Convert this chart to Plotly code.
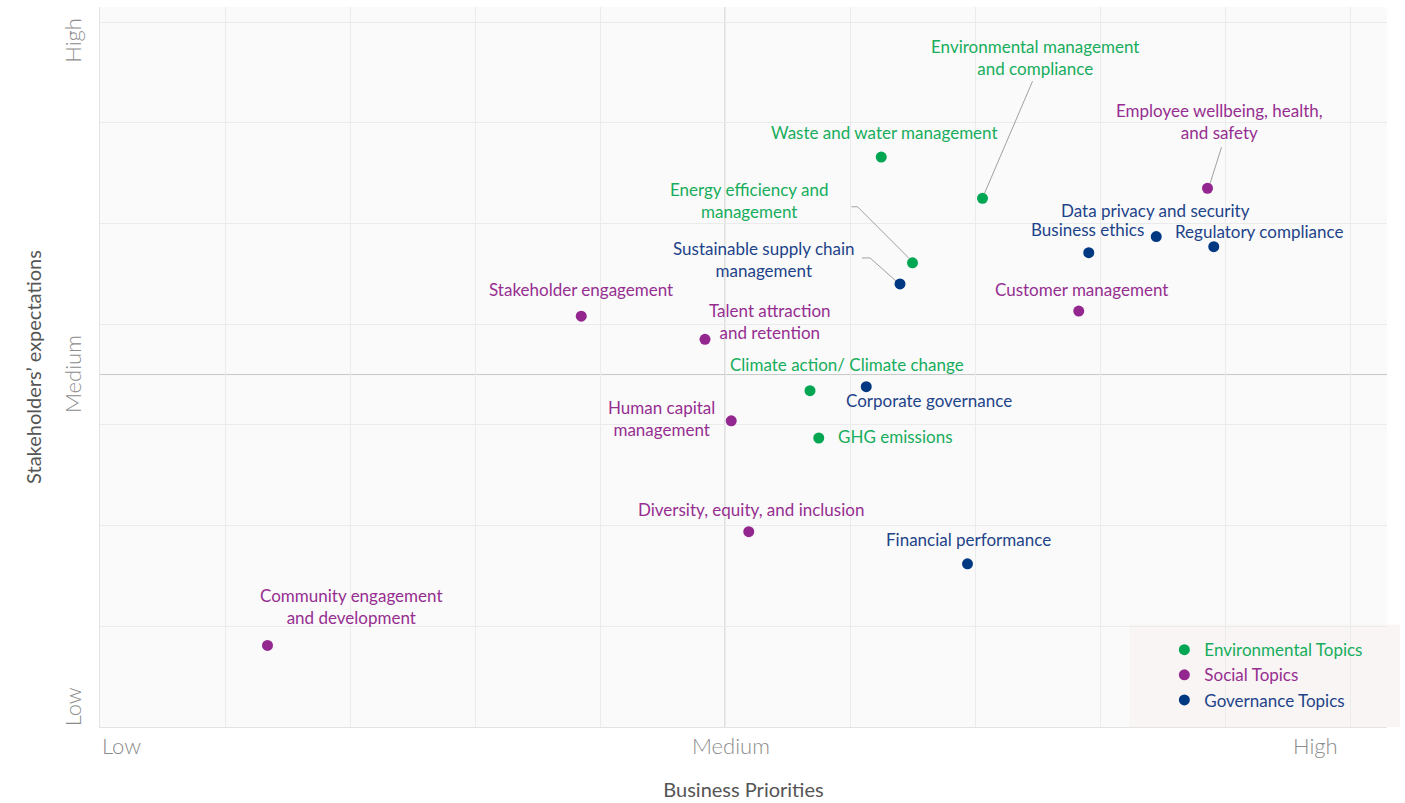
import plotly.graph_objects as go

# ---- data -------------------------------------------------------------
env_topics = ["Waste and water management", "Environmental management<br>and compliance",
              "Energy efficiency and<br>management", "Climate action/ Climate change",
              "GHG emissions"]
env_x = [6.25, 7.06, 6.50, 5.68, 5.75]
env_y = [5.66, 5.25, 4.61, 3.34, 2.87]

soc_topics = ["Employee wellbeing, health,<br>and safety", "Customer management",
              "Stakeholder engagement", "Talent attraction<br>and retention",
              "Human capital<br>management", "Diversity, equity, and inclusion",
              "Community engagement<br>and development"]
soc_x = [8.86, 7.83, 3.85, 4.84, 5.05, 5.19, 1.34]
soc_y = [5.35, 4.13, 4.08, 3.85, 3.04, 1.94, 0.81]

gov_topics = ["Data privacy and security", "Regulatory compliance", "Business ethics",
              "Sustainable supply chain<br>management", "Corporate governance",
              "Financial performance"]
gov_x = [8.45, 8.91, 7.91, 6.40, 6.13, 6.94]
gov_y = [4.87, 4.77, 4.71, 4.40, 3.38, 1.62]

level_labels = ["Low", "Medium", "High"]

# ---- styling ----------------------------------------------------------
FONT = "Lato, 'Source Sans Pro', sans-serif"
GREEN, PURPLE, NAVY = "#00a651", "#93278f", "#003882"
TXT_GREEN, TXT_PURPLE, TXT_NAVY = "#16ad5c", "#962e91", "#1d4389"
LABEL_SIZE = 17

X_RANGE = [0, 10.296]
Y_RANGE = [0, 7.15]
PLOT_L, PLOT_R, PLOT_T, PLOT_B = 100, 18, 7, 76
W, H = 1405, 803
PX_X = (W - PLOT_L - PLOT_R) / (X_RANGE[1] - X_RANGE[0])   # pixels per x unit
PX_Y = (H - PLOT_T - PLOT_B) / (Y_RANGE[1] - Y_RANGE[0])   # pixels per y unit

# label offsets from each point, in pixels (dx right, dy up)
label_offsets = {
    "Waste and water management": (3, 25),
    "Environmental management<br>and compliance": (52, 141),
    "Energy efficiency and<br>management": (-164, 62),
    "Climate action/ Climate change": (37, 26),
    "GHG emissions": (77, 1),
    "Employee wellbeing, health,<br>and safety": (12, 67),
    "Customer management": (3, 22),
    "Stakeholder engagement": (0, 27),
    "Talent attraction<br>and retention": (65, 18),
    "Human capital<br>management": (-70, 2),
    "Diversity, equity, and inclusion": (2, 22),
    "Community engagement<br>and development": (83, 39),
    "Data privacy and security": (-1, 26),
    "Regulatory compliance": (45, 15),
    "Business ethics": (-1, 23),
    "Sustainable supply chain<br>management": (-136, 24),
    "Corporate governance": (63, -14),
    "Financial performance": (1, 24),
}

# leader lines: pixel offsets (dx, dy up) of the vertices, starting near the point
leaders = {
    "Environmental management<br>and compliance": [(2, 5), (50, 117)],
    "Employee wellbeing, health,<br>and safety": [(2, 3), (14, 41)],
    "Energy efficiency and<br>management": [(-3, 4), (-55, 56), (-61, 56)],
    "Sustainable supply chain<br>management": [(-3, 2), (-30, 26), (-38, 26)],
}

fig = go.Figure()

groups = [
    ("Environmental Topics", env_topics, env_x, env_y, GREEN, TXT_GREEN),
    ("Social Topics", soc_topics, soc_x, soc_y, PURPLE, TXT_PURPLE),
    ("Governance Topics", gov_topics, gov_x, gov_y, NAVY, TXT_NAVY),
]

# leader lines first so the dots sit on top
for name, topics, xs, ys, col, tcol in groups:
    for t, x, y in zip(topics, xs, ys):
        if t in leaders:
            lx = [x + dx / PX_X for dx, dy in leaders[t]]
            ly = [y + dy / PX_Y for dx, dy in leaders[t]]
            fig.add_trace(go.Scatter(x=lx, y=ly, mode="lines",
                                     line=dict(color="#a0a0a0", width=1),
                                     showlegend=False, hoverinfo="skip"))

for name, topics, xs, ys, col, tcol in groups:
    fig.add_trace(go.Scatter(
        x=xs, y=ys, mode="markers",
        name=f"<span style='color:{tcol}'>{name}</span>",
        marker=dict(size=11, color=col),
        text=[t.replace("<br>", " ") for t in topics],
        hovertemplate="%{text}<extra></extra>",
    ))
    for t, x, y in zip(topics, xs, ys):
        dx, dy = label_offsets[t]
        fig.add_annotation(x=x, y=y, text=t, showarrow=False,
                           xshift=dx, yshift=dy, xanchor="center", yanchor="middle",
                           font=dict(family=FONT, size=LABEL_SIZE, color=tcol))

# quadrant dividers at the medium level
fig.add_shape(type="line", x0=5, x1=5, y0=Y_RANGE[0], y1=Y_RANGE[1],
              line=dict(color="#c8c8c8", width=1), layer="below")
fig.add_shape(type="line", x0=X_RANGE[0], x1=X_RANGE[1], y0=3.5, y1=3.5,
              line=dict(color="#c8c8c8", width=1), layer="below")

# legend backdrop
fig.add_shape(type="rect", xref="paper", yref="paper",
              x0=0.80, x1=1.01, y0=0, y1=0.142,
              fillcolor="rgba(248,244,243,0.9)", line=dict(width=0), layer="below")

# level labels along both axes
tick_font = dict(family=FONT, size=22, color="#8c8c8c", weight=300)
x_pos = [(0, "left"), (5.05, "center"), (9.92, "right")]
for lab, (xv, anc) in zip(level_labels, x_pos):
    fig.add_annotation(x=xv, y=0, xref="x", yref="y", text=lab, showarrow=False,
                       xanchor=anc, yanchor="top", yshift=-3, font=tick_font)
y_pos = [0.2, 3.5, 6.82]
for lab, yv in zip(level_labels, y_pos):
    fig.add_annotation(x=0, y=yv, xref="x", yref="y", text=lab, showarrow=False,
                       textangle=-90, xanchor="right", yanchor="middle", xshift=-12,
                       font=tick_font)

fig.update_layout(
    width=W, height=H,
    margin=dict(l=PLOT_L, r=PLOT_R, t=PLOT_T, b=PLOT_B),
    paper_bgcolor="white", plot_bgcolor="#fafafa",
    font=dict(family=FONT, size=16, color="#555"),
    showlegend=True,
    legend=dict(x=0.827, xanchor="left", y=0.072, yanchor="middle",
                bgcolor="rgba(0,0,0,0)", font=dict(family=FONT, size=17),
                itemwidth=30, tracegroupgap=0),
    xaxis=dict(range=X_RANGE, dtick=1, tick0=0, showticklabels=False,
               showgrid=True, gridcolor="#ebebeb", gridwidth=1,
               zeroline=False, showline=True, linecolor="#e3e3e3", ticks="",
               title=dict(text="Business Priorities", standoff=55,
                          font=dict(family=FONT, size=20, color="#555"))),
    yaxis=dict(range=Y_RANGE, dtick=1, tick0=0, showticklabels=False,
               showgrid=True, gridcolor="#ebebeb", gridwidth=1,
               zeroline=False, showline=True, linecolor="#e3e3e3", ticks="",
               title=dict(text="Stakeholders’ expectations", standoff=52,
                          font=dict(family=FONT, size=20, color="#555"))),
)

fig.write_html("out.html")
